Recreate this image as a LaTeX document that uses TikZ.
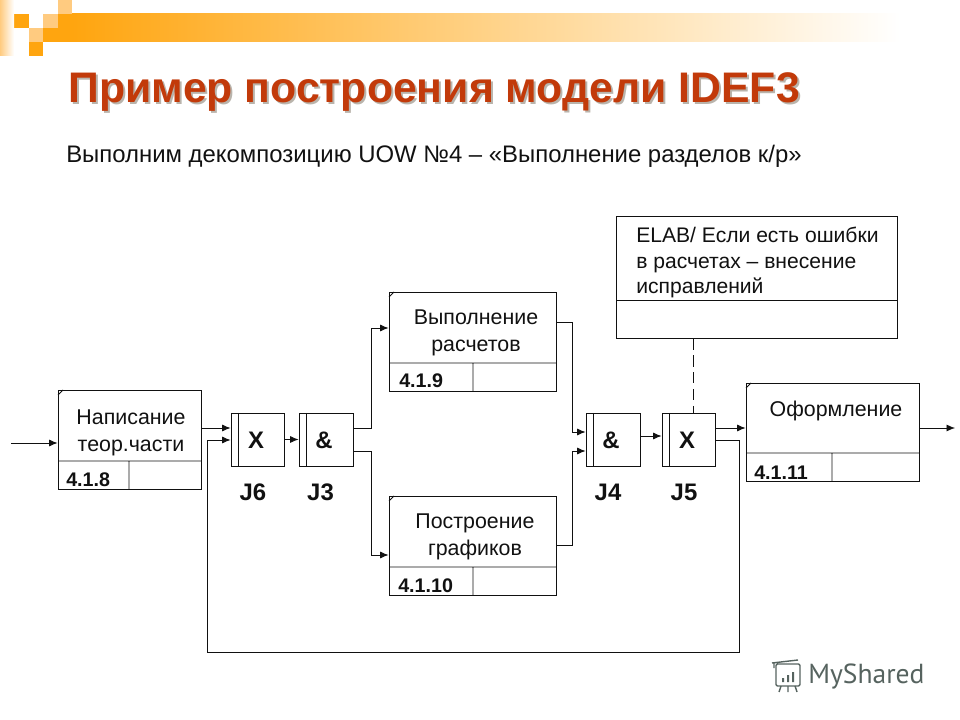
\documentclass[tikz,border=0pt]{standalone}
\usepackage{fontspec}
\setmainfont{Liberation Sans}
\newfontfamily\logofont{PT Sans}
\usetikzlibrary{arrows.meta,positioning,calc}
\definecolor{ink}{HTML}{111111}
\definecolor{titlered}{HTML}{C23A0A}
\definecolor{titleshade}{HTML}{B9B4AC}
\definecolor{barleft}{HTML}{FFA50F}
\definecolor{barmid}{HTML}{FFBF8A}
\definecolor{cellpale}{HTML}{FFCB80}
\definecolor{logogray}{HTML}{56635F}

\begin{document}
\begin{tikzpicture}[x=0.025cm,y=-0.025cm,
  lab/.style={font=\fontsize{15.2}{19}\selectfont,text=ink,inner sep=0pt,align=center},
  num/.style={font=\bfseries\fontsize{14}{16}\selectfont,text=ink,inner sep=0pt},
  jct/.style={font=\bfseries\fontsize{17}{20}\selectfont,text=ink,inner sep=0pt},
  uow/.style={draw=ink,line width=0.6pt,fill=white,inner sep=0pt},
  link/.style={draw=ink,line width=0.6pt},
  flow/.style={link,-{Latex[length=6pt,width=5pt]}}]
\useasboundingbox (0,0) rectangle (960,720);
% header band
\shade[left color=barleft,middle color=barmid,right color=white] (72,14) rectangle (900,42);
\fill[barleft] (58,14) rectangle (73,42);
\fill[barleft] (14,14) rectangle (29,28);
\fill[barleft] (43,28) rectangle (58,42);
\fill[barleft] (29,42) rectangle (43,56);
\fill[cellpale] (43,14) rectangle (58,28);
\fill[cellpale] (29,28) rectangle (43,42);
\fill[cellpale] (58,0) rectangle (72,14);
\shade[left color=cellpale,right color=white] (0,0) rectangle (14,56);
% title
\node[font=\bfseries\fontsize{30.4}{36}\selectfont,text=titleshade,inner sep=0pt,anchor=base west] (titleback) at (70,105) {Пример построения модели IDEF3};
\node[font=\bfseries\fontsize{30.4}{36}\selectfont,text=titlered,inner sep=0pt,anchor=base west] (title) at (68,103) {Пример построения модели IDEF3};
\node[font=\fontsize{17}{20}\selectfont,text=ink,inner sep=0pt,anchor=base west] (subtitle) at (66,163) {Выполним декомпозицию UOW №4 – «Выполнение разделов к/р»};
% activity boxes
\node[uow,minimum width=143*0.025cm,minimum height=99*0.025cm] (uow8) at (129.5,439.5) {};
\draw[link] (58,461) -- (201,461) (129,461) -- (129,489) (58,395) -- (63,390);
\node[lab] (text8) at (131,433) {Написание\\теор.части};
\node[num,anchor=base west] (num8) at (66,487) {4.1.8};
\node[uow,minimum width=167*0.025cm,minimum height=99*0.025cm] (uow9) at (472.5,341.5) {};
\draw[link] (389,363) -- (556,363) (473,363) -- (473,391) (389,297) -- (394,292);
\node[lab] (text9) at (476,333) {Выполнение\\расчетов};
\node[num,anchor=base west] (num9) at (399,388) {4.1.9};
\node[uow,minimum width=167*0.025cm,minimum height=99*0.025cm] (uow10) at (472.5,545.5) {};
\draw[link] (389,567) -- (556,567) (473,567) -- (473,595) (389,501) -- (394,496);
\node[lab] (text10) at (475,537) {Построение\\графиков};
\node[num,anchor=base west] (num10) at (398,592) {4.1.10};
\node[uow,minimum width=173*0.025cm,minimum height=98*0.025cm] (uow11) at (832.5,432) {};
\draw[link] (746,453) -- (919,453) (832,453) -- (832,481) (746,388) -- (751,383);
\node[lab] (text11) at (836,411) {Оформление};
\node[num,anchor=base west] (num11) at (754,480) {4.1.11};
\node[uow,minimum width=281*0.025cm,minimum height=122*0.025cm] (elab) at (756.5,277) {};
\draw[link] (616,300) -- (897,300);
\node[lab,align=left,anchor=north west,font=\fontsize{15}{18}\selectfont] (elabtext) at (636,227) {ELAB/ Если есть ошибки\\в расчетах – внесение\\исправлений};
% junctions
\node[uow,minimum width=53*0.025cm,minimum height=53*0.025cm] (j6) at (257.5,439.5) {};
\draw[link] (238,413) -- (238,466);
\node[jct] (j6sign) at (256,440) {X};
\node[jct] (j6name) at (253,492) {J6};
\node[uow,minimum width=54*0.025cm,minimum height=53*0.025cm] (j3) at (326,439.5) {};
\draw[link] (306,413) -- (306,466);
\node[jct] (j3sign) at (324,440) {\&};
\node[jct] (j3name) at (320.5,492) {J3};
\node[uow,minimum width=54*0.025cm,minimum height=53*0.025cm] (j4) at (613,439.5) {};
\draw[link] (593,413) -- (593,466);
\node[jct] (j4sign) at (611,440) {\&};
\node[jct] (j4name) at (608,492) {J4};
\node[uow,minimum width=53*0.025cm,minimum height=53*0.025cm] (j5) at (688.5,439.5) {};
\draw[link] (669,413) -- (669,466);
\node[jct] (j5sign) at (687,440) {X};
\node[jct] (j5name) at (684,492) {J5};
% connectors
\coordinate (start) at (11,443);
\coordinate (finish) at (955,428);
\coordinate (loopleft) at (207,652);
\coordinate (loopright) at (739,652);
\draw[flow] (start) -- (start -| uow8.west);
\draw[flow] (uow8.east |- 0,428) -- (j6.west |- 0,428);
\draw[flow] (j6.east) -- (j3.west);
\draw[flow] (j3.east |- 0,428) -| (371,328) -- (uow9.west |- 0,328);
\draw[flow] (j3.east |- 0,451) -| (371,555) -- (uow10.west |- 0,555);
\draw[flow] (uow9.east |- 0,322) -| (572,432) -- (j4.west |- 0,432);
\draw[flow] (uow10.east |- 0,545) -| (572,451) -- (j4.west |- 0,451);
\draw[flow] (j4.east |- 0,436) -- (j5.west |- 0,436);
\draw[flow] (j5.east |- 0,428) -- (uow11.west |- 0,428);
\draw[flow] (j5.east |- 0,440) -| (loopright) -- (loopleft) |- (j6.west |- 0,440);
\draw[flow] (uow11.east |- finish) -- (finish);
\draw[link,dashed,dash pattern=on 8pt off 4pt] (elab.south -| 693,0) -- (j5.north -| 693,0);
% logo
\node[font=\logofont\fontsize{19.6}{24}\selectfont,text=logogray,inner sep=0pt,anchor=base west] (logo) at (808,683) {MyShared};
\draw[logogray,line width=1pt,rounded corners=1pt] (776,664) rectangle (800,686) (772,663) -- (798,660) (774,668) -- (774,662);
\fill[logogray] (782,678) rectangle (784,682) (787,675) rectangle (789,682) (792,672) rectangle (794,682);
\draw[logogray,line width=1pt] (781,686) -- (779,692) (788,686) -- (788,692) (795,686) -- (797,692);
\end{tikzpicture}
\end{document}
